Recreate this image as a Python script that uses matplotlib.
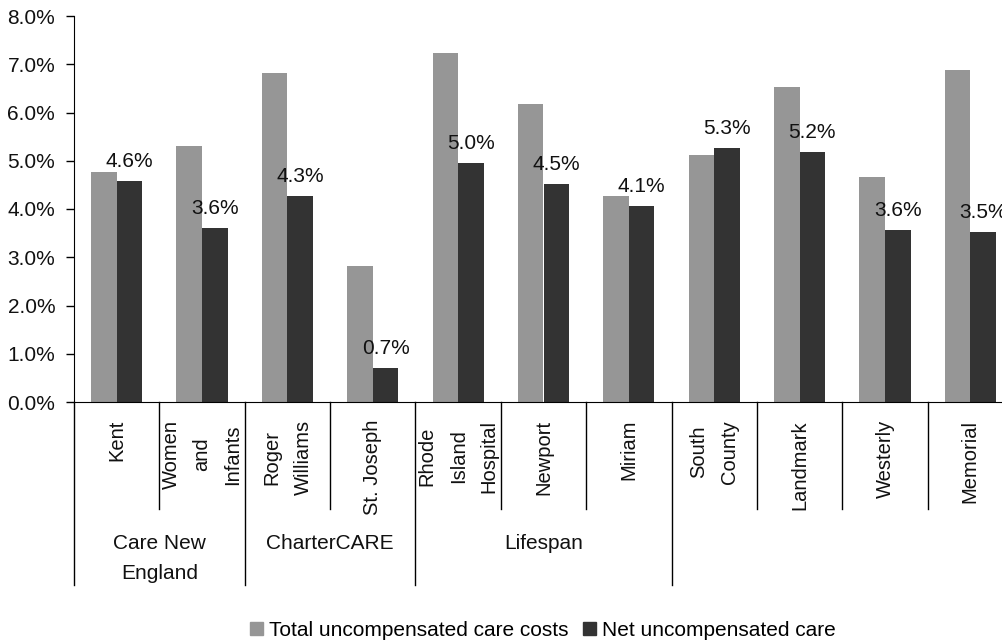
import numpy as np
import matplotlib
matplotlib.use('Agg')
import matplotlib.pyplot as plt
import matplotlib.transforms as mtransforms
from matplotlib.lines import Line2D
from matplotlib.patches import Patch

plt.rcParams['font.family'] = ['Liberation Sans', 'DejaVu Sans']
plt.rcParams['font.size'] = 15

# hospitals (bottom row of labels) and the systems they belong to
hospitals = ['Kent', 'Women\nand\nInfants', 'Roger\nWilliams', 'St. Joseph',
             'Rhode\nIsland\nHospital', 'Newport', 'Miriam', 'South\nCounty',
             'Landmark', 'Westerly', 'Memorial']
systems = ['Care New\nEngland', 'CharterCARE', 'Lifespan', '']
system_sizes = [2, 2, 3, 4]

# values in percent
total_costs = [4.76, 5.31, 6.82, 2.82, 7.23, 6.18, 4.27, 5.12, 6.53, 4.66, 6.88]
net_care = [4.58, 3.61, 4.27, 0.70, 4.95, 4.52, 4.06, 5.26, 5.18, 3.56, 3.52]
net_labels = ['4.6%', '3.6%', '4.3%', '0.7%', '5.0%', '4.5%', '4.1%',
              '5.3%', '5.2%', '3.6%', '3.5%']

GRAY = '#969696'
DARK = '#333333'
TXT = '#111111'
W, H = 1002, 642

fig = plt.figure(figsize=(W / 100, H / 100), dpi=100)
# plot area runs a little past the right edge, as in the original
ax = fig.add_axes([74 / W, 1 - 402 / H, 939 / W, 386 / H])

x = np.arange(len(hospitals))
bw = 0.3
ax.bar(x - bw / 2, total_costs, bw, color=GRAY, label='Total uncompensated care costs')
ax.bar(x + bw / 2, net_care, bw, color=DARK, label='Net uncompensated care')

for xi, v, lab in zip(x, net_care, net_labels):
    ax.annotate(lab, (xi + bw / 2, v), xytext=(0, 10), textcoords='offset points',
                ha='center', va='baseline', color=TXT)

ax.set_xlim(-0.5, len(hospitals) - 0.5)
ax.set_ylim(0, 8)
ax.set_yticks(np.arange(0, 9, 1))
ax.set_yticklabels([f'{t:.1f}%' for t in range(9)])
ax.tick_params(axis='y', length=6, width=1, pad=7.5, labelsize=15, labelcolor=TXT)
ax.tick_params(axis='x', length=0, labelbottom=False)
ax.spines['top'].set_visible(False)
ax.spines['right'].set_visible(False)

# multi-level category axis under the plot
tr = mtransforms.blended_transform_factory(ax.transData, fig.transFigure)

def fy(py):
    return 1 - py / H

for xi, name in zip(x, hospitals):
    ax.text(xi, fy(420), name, transform=tr, rotation=90, ha='center', va='top',
            multialignment='center', linespacing=1.8, fontsize=14.5, color=TXT)

group_edges = np.cumsum([0] + system_sizes) - 0.5
for b in np.arange(len(hospitals) + 1) - 0.5:
    bottom = 585 if b in group_edges else 509
    ax.add_line(Line2D([b, b], [fy(402), fy(bottom)], transform=tr, color='black',
                       lw=1, clip_on=False))

for start, end, name in zip(group_edges[:-1], group_edges[1:], systems):
    ax.text((start + end) / 2, fy(534), name, transform=tr, ha='center', va='top',
            linespacing=1.75, color=TXT)

handles = [Patch(color=GRAY), Patch(color=DARK)]
fig.legend(handles, ['Total uncompensated care costs', 'Net uncompensated care'],
           loc='center', bbox_to_anchor=(543 / W, fy(630)), ncol=2, frameon=False,
           handlelength=0.6, handleheight=0.6, handletextpad=0.3, columnspacing=0.7)

fig.savefig('out.png', dpi=100)
